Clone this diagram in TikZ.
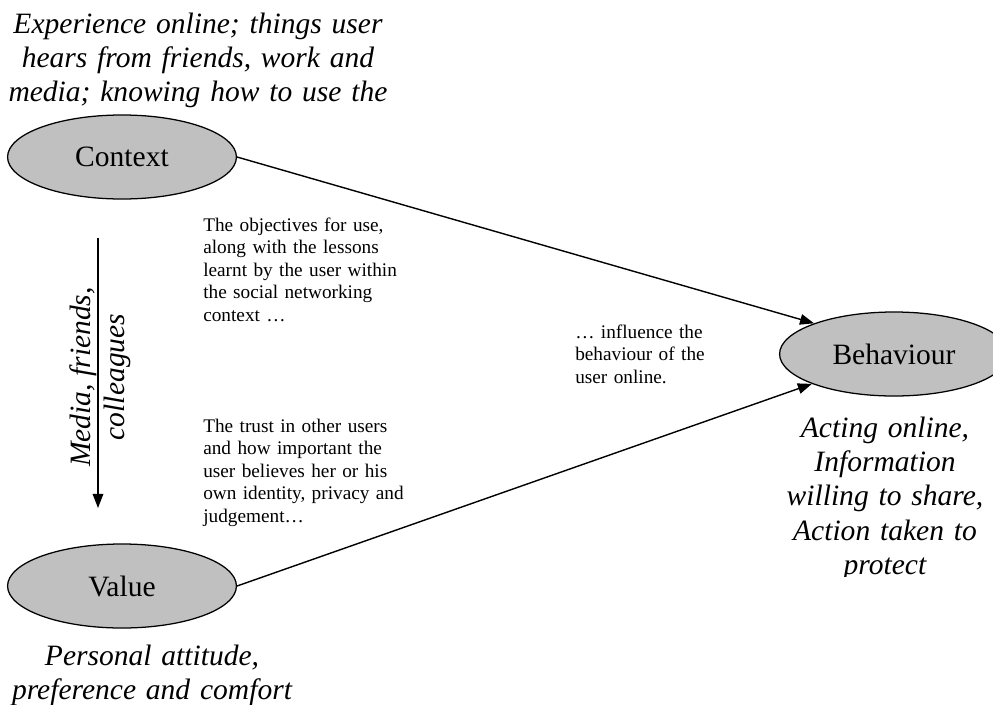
\documentclass[tikz,border=0pt]{standalone}
\usepackage{fontspec}
\setmainfont{Liberation Serif}
\usetikzlibrary{shapes.geometric,arrows.meta}
\definecolor{ovalgray}{RGB}{192,192,192}
\newcommand{\dgBig}{\fontsize{21}{24.5}\selectfont}
\newcommand{\dgSmall}{\fontsize{13.7}{16.1}\selectfont}

\begin{document}
\begin{tikzpicture}[x=0.025cm, y=-0.025cm,
    oval/.style={ellipse, draw, line width=0.9pt, fill=ovalgray,
        minimum width=5.72cm, minimum height=2.1cm, inner sep=0pt, font=\dgBig},
    note/.style={anchor=base west, inner sep=0pt, text width=5.5cm,
        align=left, font=\dgSmall},
    remark/.style={anchor=base, inner sep=0pt, text width=12cm,
        align=center, font=\dgBig\itshape},
    link/.style={line width=1pt, -{Triangle[length=10pt,width=7.5pt]}}]
    \useasboundingbox (0,0) rectangle (993,704);

    % the three ovals
    \node[oval] (context) at (122,157) {Context};
    \node[oval] (value) at (122,586) {Value};
    \node[oval] (behaviour) at (894,354) {Behaviour};

    % italic remarks
    \begin{scope}
        \clip (0,0) rectangle (993,107);
        \node[remark] (ctxnote) at (198,33)
            {Experience online; things user\\hears from friends, work and\\media; knowing how to use the};
    \end{scope}
    \begin{scope}
        \clip (700,400) rectangle (993,576);
        \node[remark] (behnote) at (885,437)
            {Acting online,\\Information\\willing to share,\\Action taken to\\protect};
    \end{scope}
    \node[remark] (valnote) at (152,665)
        {Personal attitude,\\preference and comfort};

    % plain notes
    \node[note] (objnote) at (203,231)
        {The objectives for use,\\along with the lessons\\learnt by the user within\\the social networking\\context \dots};
    \node[note] (trustnote) at (203,432)
        {The trust in other users\\and how important the\\user believes her or his\\own identity, privacy and\\judgement\dots};
    \node[note] (inflnote) at (575,338)
        {\dots{} influence the\\behaviour of the\\user online.};

    % connectors
    \draw[link] (context.east) -- (behaviour.159);
    \draw[link] (value.east) -- (behaviour.200);

    \coordinate (mfTop) at (98,238);
    \coordinate (mfEnd) at (98,508);
    \draw[link] (mfTop) -- (mfEnd);
    \node[rotate=90, inner sep=0pt, align=center, font=\dgBig\itshape] (media) at (100,377)
        {Media, friends,\\colleagues};
\end{tikzpicture}
\end{document}
